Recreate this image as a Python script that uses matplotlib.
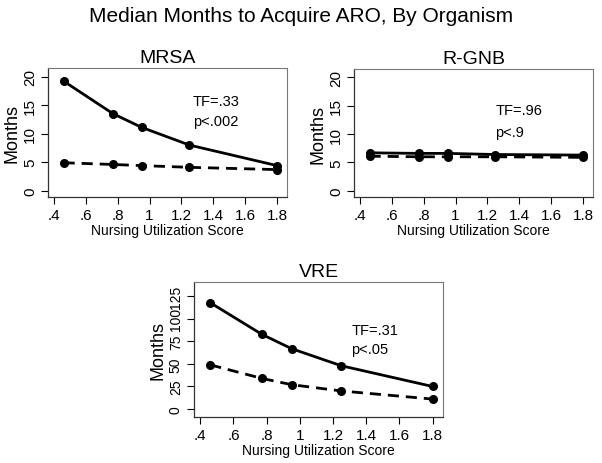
import matplotlib
matplotlib.use("Agg")
import matplotlib.pyplot as plt

plt.rcParams['font.family'] = ['Liberation Sans', 'DejaVu Sans']

nus = [0.46, 0.77, 0.95, 1.25, 1.8]
mrsa_solid = [19.2, 13.5, 11.1, 8.0, 4.4]
mrsa_dash = [4.9, 4.6, 4.4, 4.1, 3.7]
rgnb_solid = [6.7, 6.6, 6.6, 6.4, 6.3]
rgnb_dash = [6.1, 6.0, 6.0, 6.0, 5.9]
vre_solid = [118, 83, 67, 48, 25]
vre_dash = [49, 34, 27, 20, 11]

xticks = [0.4, 0.6, 0.8, 1.0, 1.2, 1.4, 1.6, 1.8]
xticklabels = ['.4', '.6', '.8', '1', '1.2', '1.4', '1.6', '1.8']
yticks_small = [0, 5, 10, 15, 20]
yticks_vre = [0, 25, 50, 75, 100, 125]

fig = plt.figure(figsize=(6.02, 4.64), dpi=100)
fig.text(0.5, 1 - 17/464, 'Median Months to Acquire ARO, By Organism',
         ha='center', va='center', fontsize=15)

def panel(rect, title, solid, dash, yticks, ylim, tf, p, tx, ty1, ty2, ylabsize=11):
    ax = fig.add_axes(rect)
    ax.plot(nus, solid, '-', color='black', lw=2.0, marker='o', ms=5.5)
    ax.plot(nus, dash, '--', color='black', lw=2.0, marker='o', ms=5.5,
            dashes=(4, 2.5))
    ax.set_xlim(0.362, 1.863)
    ax.set_ylim(*ylim)
    ax.set_xticks(xticks)
    ax.set_xticklabels(xticklabels)
    ax.set_yticks(yticks)
    ax.set_yticklabels([str(v) for v in yticks], rotation=90, va='center')
    ax.tick_params(labelsize=11, length=5, width=0.8, direction='out', pad=3)
    ax.tick_params(axis='y', labelsize=ylabsize)
    ax.set_xlabel('Nursing Utilization Score', fontsize=10, labelpad=1)
    ax.set_ylabel('Months', fontsize=13, labelpad=2)
    ax.set_title(title, fontsize=14, pad=4)
    for s in ['top', 'right']:
        ax.spines[s].set_color('#777777')
        ax.spines[s].set_linewidth(0.8)
    for s in ['left', 'bottom']:
        ax.spines[s].set_color('#333333')
        ax.spines[s].set_linewidth(0.9)
    ax.text(tx, ty1, tf, fontsize=10.5, ha='left', va='center')
    ax.text(tx, ty2, p, fontsize=10.5, ha='left', va='center')
    return ax

H = 464.0
W = 602.0
panel([48/W, 1 - 198/H, 239/W, 129/H], 'MRSA', mrsa_solid, mrsa_dash,
      yticks_small, (-1.1, 21.5), 'TF=.33', 'p<.002', 1.27, 15.7, 12.2)
panel([354/W, 1 - 198/H, 239/W, 128/H], 'R-GNB', rgnb_solid, rgnb_dash,
      yticks_small, (-1.1, 21.5), 'TF=.96', 'p<.9', 1.25, 14.2, 10.3)
panel([194/W, 1 - 418/H, 249/W, 135/H], 'VRE', vre_solid, vre_dash,
      yticks_vre, (-8.9, 141), 'TF=.31', 'p<.05', 1.31, 88, 67, ylabsize=10)

fig.savefig('out.png', dpi=100)
